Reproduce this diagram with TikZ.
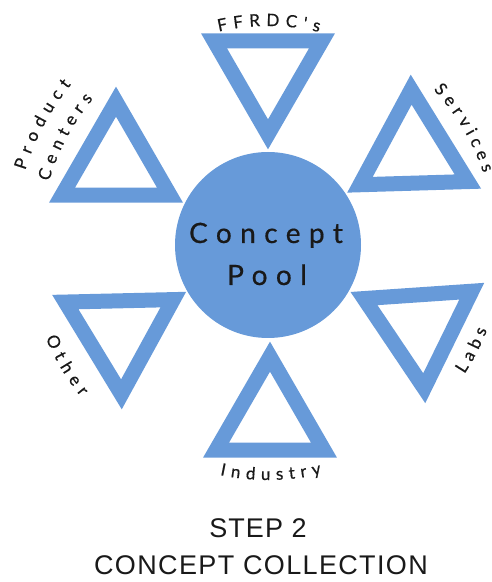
\documentclass[tikz,border=0pt]{standalone}
\usepackage{fontspec}
\setmainfont{Lato}
\newfontfamily\lblfont[FakeBold=0.6]{Lato}
\newfontfamily\poolfont[LetterSpace=30,FakeBold=0.5]{Lato}
\newfontfamily\stepfont[LetterSpace=4]{Liberation Sans}
\newfontfamily\collfont[LetterSpace=5]{Liberation Sans}
\usetikzlibrary{decorations.text}
\definecolor{poolblue}{RGB}{103,154,217}
\definecolor{ink}{RGB}{25,25,25}
\newcommand\ConceptTri[4]{%
  \coordinate (#1) at (#2,#3);
  \draw[tri] ([shift={(#4:62.35)}]#1) -- ([shift={(#4+120:62.35)}]#1) -- ([shift={(#4+240:62.35)}]#1) -- cycle;}
\begin{document}
\begin{tikzpicture}[x=1pt,y=1pt,
  tri/.style={draw=poolblue, line width=15pt, line join=miter},
  lab/.style={decorate, decoration={text along path, text align={fit to path}, text color=ink,
     text={|\lblfont\fontsize{17}{20}\selectfont|#1}}},
  pooltext/.style={anchor=base, text=ink, font={\poolfont\fontsize{28}{32}\selectfont}},
  steptext/.style={anchor=base, text=ink, font={\stepfont\fontsize{27}{30}\selectfont}},
  colltext/.style={anchor=base, text=ink, font={\collfont\fontsize{27}{30}\selectfont}}]
\useasboundingbox (0,0) rectangle (491,582);
\coordinate (O) at (268,337);
% triangles
\ConceptTri{ffrdc}{268}{510}{-90}
\ConceptTri{serv}{413}{430}{91.7}
\ConceptTri{prod}{116}{418}{90}
\ConceptTri{other}{120}{250}{-88.7}
\ConceptTri{labs}{420}{256}{-86.1}
\ConceptTri{ind}{270}{163}{90}
% central circle
\node[circle, fill=poolblue, minimum size=186pt, inner sep=0pt] (pool) at (O) {};
\node[pooltext] (concept) at (266,339) {Concept};
\node[pooltext] (pooll) at (267,297) {Pool};
% curved labels
\path[lab={FFRDC's}] (O) ++(103:219) arc[start angle=103, end angle=76.5, radius=219];
\path[lab={Services}] (O) ++(43.2:227) arc[start angle=43.2, end angle=18.5, radius=227];
\path[lab={Product}] (O) ++(162.9:254) arc[start angle=162.9, end angle=140.8, radius=254];
\path[lab={Centers}] (O) ++(163.8:228) arc[start angle=163.8, end angle=140.1, radius=228];
\path[lab={Other}] (O) ++(202.7:241) arc[start angle=202.7, end angle=219, radius=241];
\path[lab={Labs}] (O) ++(-33.3:235) arc[start angle=-33.3, end angle=-21.2, radius=235];
\path[lab={Industry}] (O) ++(-101.8:235) arc[start angle=-101.8, end angle=-76.8, radius=235];
% caption
\node[steptext] (step) at (258,45) {STEP 2};
\node[colltext] (coll) at (261,7) {CONCEPT COLLECTION};
\end{tikzpicture}
\end{document}
